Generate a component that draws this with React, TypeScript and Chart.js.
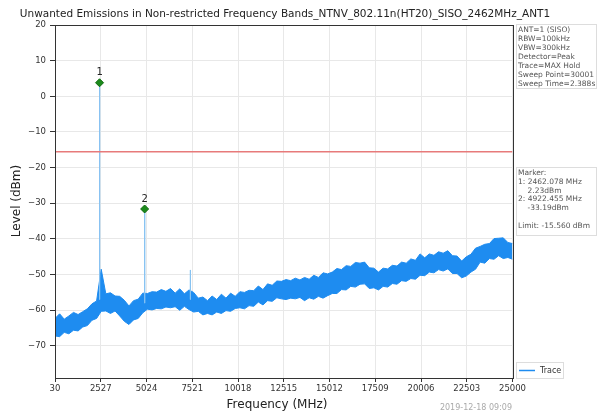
import React, { useEffect, useRef } from 'react';
import { Chart, registerables } from 'chart.js';

Chart.register(...registerables);

const FONT = "'DejaVu Sans', sans-serif";

const titleText = 'Unwanted Emissions in Non-restricted Frequency Bands_NTNV_802.11n(HT20)_SISO_2462MHz_ANT1';
const xAxisTitle = 'Frequency (MHz)';
const yAxisTitle = 'Level (dBm)';
const dateStamp = '2019-12-18 09:09';

const xMin = 30;
const xMax = 25000;
const yMin = -79;
const yMax = 20;
const xTickValues = [30, 2527, 5024, 7521, 10018, 12515, 15012, 17509, 20006, 22503, 25000];
const yTickValues = [-70, -60, -50, -40, -30, -20, -10, 0, 10, 20];

// MAX-hold trace drawn as its upper and lower envelope (dBm), evenly spaced from 30 to 25000 MHz
const traceStart = 30;
const traceStop = 25000;
const traceUpper = [
  -62.3, -61.0, -62.5, -61.6, -60.6, -61.2, -60.4, -59.6, -58.2, -57.4,
  -48.5, -55.4, -55.1, -56.0, -56.1, -57.2, -58.8, -57.3, -56.9, -55.2,
  -55.3, -54.8, -54.9, -54.2, -54.7, -53.9, -55.2, -54.0, -55.4, -54.3,
  -55.0, -56.6, -56.3, -57.3, -56.0, -57.0, -55.5, -56.6, -55.2, -56.1,
  -54.8, -55.0, -54.4, -54.5, -53.2, -54.2, -52.6, -53.0, -51.8, -51.9,
  -51.4, -51.7, -51.0, -51.5, -50.8, -51.3, -50.2, -50.8, -49.5, -49.8,
  -49.3, -48.3, -48.6, -47.5, -47.7, -46.6, -46.8, -46.5, -48.1, -48.2,
  -49.3, -48.2, -48.4, -47.4, -47.6, -46.5, -46.8, -45.6, -46.0, -44.2,
  -45.3, -44.2, -44.6, -43.6, -44.0, -43.3, -44.7, -44.8, -46.2, -45.0,
  -44.3, -42.6, -42.1, -41.5, -41.3, -39.9, -39.8, -39.7, -41.0, -41.3,
];
const traceLower = [
  -67.2, -67.4, -66.2, -66.6, -65.6, -65.8, -64.7, -64.3, -62.8, -62.3,
  -60.3, -60.2, -60.9, -60.2, -61.6, -63.1, -64.0, -62.7, -62.3, -60.7,
  -59.7, -59.9, -59.5, -59.6, -59.1, -59.3, -59.0, -60.0, -58.9, -59.8,
  -60.5, -60.3, -61.3, -60.9, -61.3, -60.5, -60.9, -60.1, -60.3, -59.5,
  -59.3, -59.6, -58.7, -58.9, -57.7, -58.5, -57.3, -57.5, -56.5, -56.8,
  -57.0, -56.6, -56.8, -56.4, -57.3, -56.5, -56.9, -56.1, -56.6, -55.9,
  -55.3, -55.3, -54.2, -54.3, -53.3, -53.5, -52.7, -52.6, -53.9, -53.7,
  -54.3, -53.3, -53.5, -52.5, -52.7, -51.7, -51.9, -51.1, -51.3, -50.2,
  -50.3, -49.3, -49.5, -48.6, -49.0, -48.4, -49.7, -49.7, -50.9, -50.4,
  -49.3, -48.5, -46.5, -46.8, -45.5, -45.7, -44.7, -45.5, -45.2, -45.7,
];

const spikeFreqs = [2462.078, 4922.455, 7415];
const spikeTops = [3.8, -31.6, -48.7];
const spikeBases = [-57, -58, -57];

const markerFreqs = [2462.078, 4922.455];
const markerLevels = [3.8, -31.6];
const markerNames = ['1', '2'];

const limitLevel = -15.56;

const infoLines = [
  'ANT=1 (SISO)',
  'RBW=100kHz',
  'VBW=300kHz',
  'Detector=Peak',
  'Trace=MAX Hold',
  'Sweep Point=30001',
  'Sweep Time=2.388s',
];
const markerLines = [
  'Marker:',
  '1: 2462.078 MHz',
  '    2.23dBm',
  '2: 4922.455 MHz',
  '    -33.19dBm',
  '',
  'Limit: -15.560 dBm',
];
const legendLabel = 'Trace';

const TRACE_COLOR = '#1e8cf0';

const overlay = {
  id: 'overlay',
  afterDraw(chart: any) {
    const ctx = chart.ctx as CanvasRenderingContext2D;
    const ca = chart.chartArea;
    ctx.save();
    ctx.strokeStyle = '#333';
    ctx.lineWidth = 1;
    ctx.strokeRect(Math.round(ca.left) + 0.5, Math.round(ca.top) + 0.5, Math.round(ca.right - ca.left), Math.round(ca.bottom - ca.top));

    ctx.fillStyle = '#222';
    ctx.font = `10.5px ${FONT}`;
    ctx.textAlign = 'center';
    ctx.textBaseline = 'middle';
    ctx.fillText(titleText, 285, 14);

    ctx.font = `12px ${FONT}`;
    ctx.fillText(xAxisTitle, 277, 405);
    ctx.save();
    ctx.translate(17, 201);
    ctx.rotate(-Math.PI / 2);
    ctx.fillText(yAxisTitle, 0, 0);
    ctx.restore();

    ctx.fillStyle = '#aaa';
    ctx.font = `8px ${FONT}`;
    ctx.textAlign = 'right';
    ctx.fillText(dateStamp, 512, 408);

    const xs = chart.scales.x;
    const ys = chart.scales.y;
    ctx.fillStyle = '#222';
    ctx.font = `10px ${FONT}`;
    ctx.textAlign = 'center';
    markerNames.forEach((n, i) => {
      ctx.fillText(n, xs.getPixelForValue(markerFreqs[i]), ys.getPixelForValue(markerLevels[i]) - 10);
    });

    const drawBox = (x: number, y: number, w: number, h: number) => {
      ctx.fillStyle = 'rgba(255,255,255,0.9)';
      ctx.fillRect(x, y, w, h);
      ctx.strokeStyle = '#ddd';
      ctx.lineWidth = 1;
      ctx.strokeRect(x + 0.5, y + 0.5, w, h);
    };
    ctx.font = `7.5px ${FONT}`;
    ctx.textAlign = 'left';
    drawBox(516, 24, 80, 64);
    ctx.fillStyle = '#555';
    infoLines.forEach((t, i) => ctx.fillText(t, 518, 30 + i * 9));

    drawBox(516, 167, 80, 68);
    ctx.fillStyle = '#555';
    markerLines.forEach((t, i) => ctx.fillText(t, 518, 173 + i * 8.8));

    drawBox(516, 362, 47, 16);
    ctx.strokeStyle = TRACE_COLOR;
    ctx.lineWidth = 1.5;
    ctx.beginPath();
    ctx.moveTo(519, 370.5);
    ctx.lineTo(535, 370.5);
    ctx.stroke();
    ctx.fillStyle = '#333';
    ctx.font = `8px ${FONT}`;
    ctx.fillText(legendLabel, 540, 370.5);
    ctx.restore();
  },
};

export default function App() {
  const ref = useRef<HTMLCanvasElement>(null);
  useEffect(() => {
    const canvas = ref.current!;
    const step = (traceStop - traceStart) / (traceUpper.length - 1);
    const upperData = traceUpper.map((y, i) => ({ x: traceStart + i * step, y }));
    const lowerData = traceLower.map((y, i) => ({ x: traceStart + i * step, y }));
    const spikeSets = spikeFreqs.map((f, i) => ({
      label: 'spike' + i,
      data: [
        { x: f - 8, y: spikeBases[i] },
        { x: f, y: spikeTops[i] },
        { x: f + 8, y: spikeBases[i] },
      ],
      borderColor: '#86c2f2',
      borderWidth: 1,
      pointRadius: 0,
    }));
    const chart = new Chart(canvas, {
      type: 'line',
      data: {
        datasets: [
          {
            label: 'markers',
            data: markerFreqs.map((f, i) => ({ x: f, y: markerLevels[i] })),
            showLine: false,
            pointStyle: 'rectRot',
            pointRadius: 4,
            backgroundColor: '#1b8a1b',
            borderColor: '#0e6a0e',
            borderWidth: 1,
          },
          {
            label: 'limit',
            data: [
              { x: xMin, y: limitLevel },
              { x: xMax, y: limitLevel },
            ],
            borderColor: '#e77a7a',
            borderWidth: 1.5,
            pointRadius: 0,
          },
          ...spikeSets,
          {
            label: legendLabel,
            data: upperData,
            borderColor: TRACE_COLOR,
            borderWidth: 1,
            pointRadius: 0,
            fill: false,
          },
          {
            label: legendLabel + ' min',
            data: lowerData,
            borderColor: TRACE_COLOR,
            backgroundColor: TRACE_COLOR,
            borderWidth: 1,
            pointRadius: 0,
            fill: '-1',
          },
        ] as any,
      },
      options: {
        responsive: false,
        animation: false,
        devicePixelRatio: 1,
        layout: { padding: { top: 25, right: 88.5, bottom: 0, left: 0 } },
        plugins: {
          legend: { display: false },
          title: { display: false },
          tooltip: { enabled: false },
        },
        scales: {
          x: {
            type: 'linear',
            min: xMin,
            max: xMax,
            afterBuildTicks: (s: any) => {
              s.ticks = xTickValues.map((v) => ({ value: v }));
            },
            afterFit: (s: any) => {
              s.height = 41;
            },
            ticks: {
              color: '#333',
              font: { family: FONT, size: 8.5 },
              padding: 2,
              maxRotation: 0,
              autoSkip: false,
              callback: (v: any) => String(v),
            },
            grid: { color: '#e8e8e8', tickColor: '#333', tickLength: 4, drawTicks: true },
            border: { display: false },
          },
          y: {
            type: 'linear',
            min: yMin,
            max: yMax,
            afterBuildTicks: (s: any) => {
              s.ticks = yTickValues.map((v) => ({ value: v }));
            },
            afterFit: (s: any) => {
              s.width = 55;
            },
            ticks: {
              color: '#333',
              font: { family: FONT, size: 8.5 },
              padding: 4,
              autoSkip: false,
              callback: (v: any) => String(v).replace('-', '\u2212'),
            },
            grid: { color: '#e8e8e8', tickColor: '#333', tickLength: 5, drawTicks: true },
            border: { display: false },
          },
        },
      } as any,
      plugins: [overlay],
    });
    return () => chart.destroy();
  }, []);
  return (
    <div style={{ position: 'fixed', left: 0, top: 0, width: 601, height: 419, background: '#fff' }}>
      <canvas ref={ref} width={601} height={419} style={{ display: 'block', width: 601, height: 419 }} />
    </div>
  );
}
